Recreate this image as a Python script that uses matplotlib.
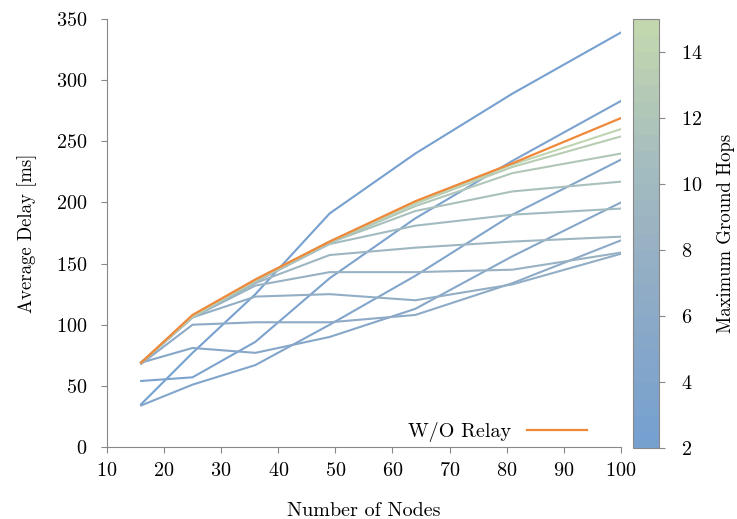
import numpy as np
import matplotlib
matplotlib.use("Agg")
import matplotlib.pyplot as plt
from matplotlib.colors import LinearSegmentedColormap, Normalize
from matplotlib.lines import Line2D

plt.rcParams["font.family"] = "serif"
plt.rcParams["font.serif"] = ["cmr10", "DejaVu Serif"]
plt.rcParams["mathtext.fontset"] = "cm"
plt.rcParams["axes.formatter.use_mathtext"] = True

nodes = [16, 25, 36, 49, 64, 81, 100]

# average delay [ms] per maximum ground hops
hops = [2, 3, 4, 5, 6, 7, 8, 9, 10, 11, 12, 13, 14]
delays = [
    [35, 77, 125, 191, 240, 289, 339],
    [54, 57, 86, 138, 187, 234, 283],
    [34, 51, 67, 100, 140, 190, 235],
    [69, 81, 77, 90, 113, 156, 200],
    [68, 100, 102, 102, 108, 134, 169],
    [69, 106, 123, 125, 120, 133, 158],
    [69, 106, 132, 143, 143, 145, 159],
    [69, 106, 134, 157, 163, 168, 172],
    [69, 106, 135, 166, 181, 190, 195],
    [69, 106, 136, 167, 193, 209, 217],
    [69, 107, 136, 167, 197, 224, 240],
    [69, 107, 136, 168, 199, 229, 254],
    [69, 107, 137, 168, 200, 231, 260],
]
no_relay = [69, 108, 137, 168, 201, 232, 269]

cmap = LinearSegmentedColormap.from_list(
    "hops", ["#76a0d0", "#8eaac6", "#a4bcbf", "#c3d7ae"]).resampled(26)
norm = Normalize(vmin=2, vmax=15)

fs = 14.5

fig = plt.figure(figsize=(7.37, 5.19), dpi=100)
ax = fig.add_axes([0.145, 0.1387, 0.6976, 0.8247])

for h, d in zip(hops, delays):
    ax.plot(nodes, d, color=cmap(norm(h)), lw=1.5)
ax.plot(nodes, no_relay, color="#f0883a", lw=1.6)

ax.set_xlim(10, 100)
ax.set_ylim(0, 350)
ax.set_xticks(range(10, 101, 10))
ax.set_yticks(range(0, 351, 50))
ax.set_xlabel("Number of Nodes", fontsize=fs, labelpad=16)
ax.set_ylabel("Average Delay [ms]", fontsize=13.5, labelpad=14)
for s in ["top", "right"]:
    ax.spines[s].set_visible(False)
for s in ["left", "bottom"]:
    ax.spines[s].set_color("#888888")
ax.tick_params(colors="#888888", labelcolor="black", labelsize=fs, length=4)
ax.tick_params(axis="y", pad=10)
ax.tick_params(axis="x", pad=7)

handle = Line2D([], [], color="#f0883a", lw=1.6)
ax.legend([handle], ["W/O Relay"], loc="lower right", frameon=False,
          markerfirst=False, fontsize=fs, handlelength=3.0,
          bbox_to_anchor=(0.97, -0.03))

cax = fig.add_axes([0.859, 0.1365, 0.0353, 0.8269])
sm = matplotlib.cm.ScalarMappable(norm=norm, cmap=cmap)
cb = fig.colorbar(sm, cax=cax, ticks=range(2, 15, 2))
cb.outline.set_edgecolor("#888888")
cb.ax.tick_params(colors="#888888", labelcolor="black", labelsize=fs,
                  length=4, pad=12)
cb.set_label("Maximum Ground Hops", fontsize=13.5, labelpad=10)

fig.savefig("out.png", dpi=100)
